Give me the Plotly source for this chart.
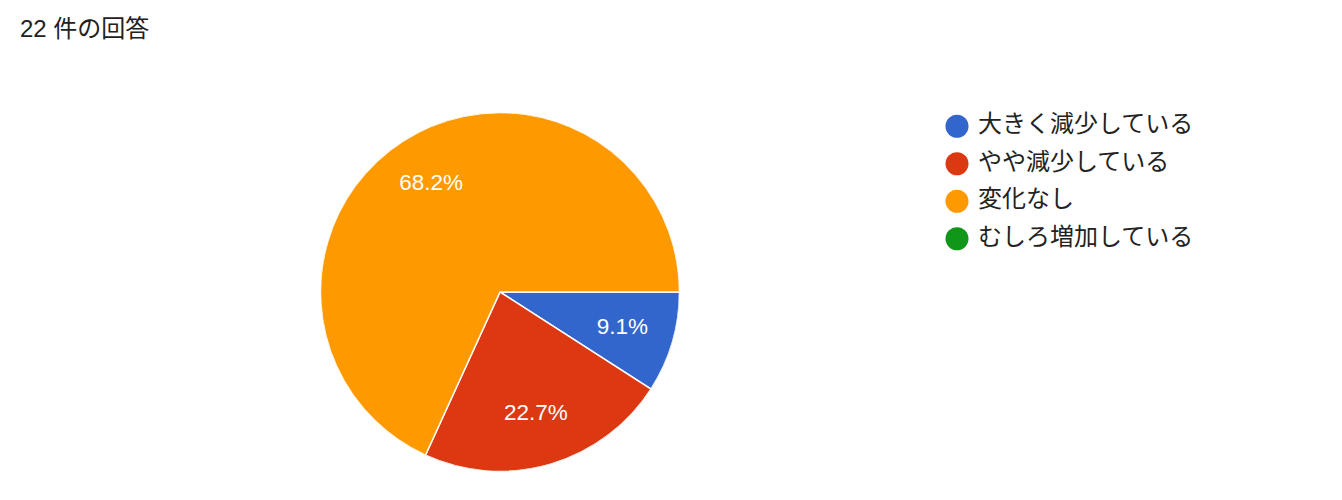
import plotly.graph_objects as go

categories = ["大きく減少している", "やや減少している", "変化なし", "むしろ増加している"]
counts = [2, 5, 15, 0]
colors = ["#3366CC", "#DC3912", "#FF9900", "#109618"]
title_text = "22 件の回答"

FONT = "Liberation Sans, Noto Sans CJK JP, sans-serif"
W, H = 1342, 500
OFF = 8  # page body margin

fig = go.Figure()

# slice geometry from the counts
total = sum(counts)
mid_theta, widths, pct_text, sl_colors, sl_labels = [], [], [], [], []
cum = 0
for lab, c, col in zip(categories, counts, colors):
    if c > 0:
        mid_theta.append((cum + c / 2) / total * 360)
        widths.append(c / total * 360)
        pct_text.append(f"{c / total * 100:.1f}%")
        sl_colors.append(col)
        sl_labels.append(lab)
    cum += c

cx, cy, r = 500 - OFF, 292 - OFF, 179.5
pie_domain = dict(x=[(cx - r) / W, (cx + r) / W], y=[1 - (cy + r) / H, 1 - (cy - r) / H])

# pie wedges
fig.add_trace(go.Barpolar(
    r=[1] * len(mid_theta),
    theta=mid_theta,
    width=widths,
    marker=dict(color=sl_colors, line=dict(color="white", width=1.5)),
    hovertext=sl_labels,
    hoverinfo="text",
    showlegend=False,
))

# percentage labels
fig.add_trace(go.Scatterpolar(
    r=[0.71] * len(mid_theta),
    theta=mid_theta,
    mode="text",
    text=pct_text,
    textfont=dict(family=FONT, size=22.5, color="white"),
    textposition="middle center",
    showlegend=False,
    hoverinfo="skip",
))

# custom legend drawn with circle markers
fig.add_trace(go.Scatter(
    x=[0] * len(categories),
    y=categories,
    mode="markers",
    marker=dict(color=colors, size=23, symbol="circle"),
    showlegend=False,
    hoverinfo="skip",
    cliponaxis=False,
))
fig.add_trace(go.Scatter(
    x=[21] * len(categories),
    y=categories,
    mode="text",
    text=categories,
    textposition="middle right",
    textfont=dict(family=FONT, size=24, color="#222222"),
    showlegend=False,
    hoverinfo="skip",
    cliponaxis=False,
))

leg_x0 = 0.68
mx = 957 - OFF
fig.update_layout(
    width=W, height=H,
    margin=dict(l=0, r=0, t=0, b=0),
    paper_bgcolor="white",
    plot_bgcolor="rgba(0,0,0,0)",
    showlegend=False,
    bargap=0,
    polar=dict(
        domain=pie_domain,
        bgcolor="rgba(0,0,0,0)",
        angularaxis=dict(rotation=0, direction="clockwise", visible=False,
                         showgrid=False, showline=False),
        radialaxis=dict(range=[0, 1], visible=False, showgrid=False, showline=False),
    ),
    xaxis=dict(domain=[leg_x0, 1.0], range=[-(mx - leg_x0 * W), W - mx],
               visible=False, fixedrange=True),
    yaxis=dict(domain=[1 - 249.5 / H, 1 - 99.5 / H], type="category",
               range=[3.5, -0.5], visible=False, fixedrange=True),
    annotations=[dict(
        text=title_text, x=(18 - OFF) / W, y=1 - (28 - OFF) / H, xref="paper", yref="paper",
        xanchor="left", yanchor="middle", showarrow=False,
        font=dict(family=FONT, size=24, color="#212121"),
    )],
)

fig.write_html("out.html")
